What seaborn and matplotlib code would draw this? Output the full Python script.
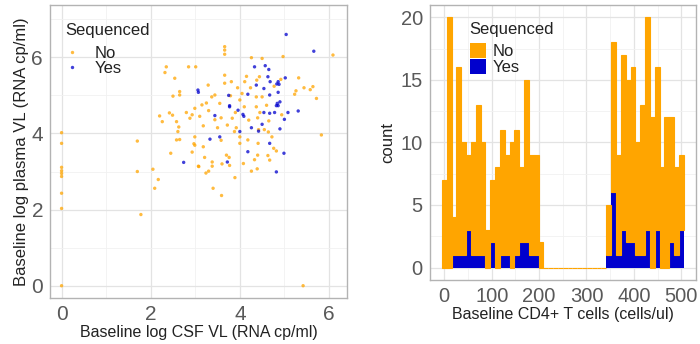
import numpy as np
import pandas as pd
import matplotlib
matplotlib.use("Agg")
import matplotlib.pyplot as plt
from matplotlib.ticker import MultipleLocator
import seaborn as sns

# ---- scatter data (log10 viral loads) ----
no_csf = [0, 0, 0, 0, 0, 0, 0, 0, 0,
          1.70, 1.70, 1.78, 2.05, 2.17, 2.09, 2.45, 2.58, 2.61, 2.58, 2.49, 5.42, 5.83, 6.09,
          3.66, 3.66, 3.66, 3.01, 4.26, 3.66, 3.66, 3.81, 3.29, 2.65, 3.44, 3.79, 4.00, 4.11,
          4.15, 4.24, 4.37, 3.37, 3.55, 4.38, 3.25, 4.37,
          4.97, 4.50, 4.44, 5.32, 4.92, 4.77, 5.44, 5.64, 5.23, 5.26, 5.72, 4.50, 4.60,
          2.99, 3.58, 2.88, 3.44, 3.83, 3.18, 3.72, 3.92, 3.88, 3.58, 2.99, 4.18, 4.00, 4.41,
          2.99, 3.18, 3.70, 3.76, 3.21, 3.38, 3.60, 3.07, 3.38, 3.30, 4.26, 4.33, 3.89, 3.40,
          3.59, 4.42, 4.00,
          4.94, 4.65, 4.40, 4.64, 4.72, 4.76, 4.63, 4.40, 4.39,
          2.35, 2.32, 2.54, 2.85, 2.50, 2.65, 2.42, 2.20, 2.26, 2.63, 2.93, 2.80, 2.65, 2.93,
          2.97, 3.08, 3.24, 3.77, 4.08, 4.67, 4.82, 5.58, 3.15, 3.30, 3.90, 4.10, 4.20, 3.50,
          3.10, 4.45, 4.55, 3.95, 4.05]
no_plasma = [4.02, 3.74, 3.11, 3.02, 2.95, 2.87, 2.43, 2.03, 0.0,
             3.80, 3.00, 1.87, 3.06, 2.79, 2.56, 3.48, 3.83, 4.05, 4.31, 4.48, 0.0, 3.96, 6.06,
             6.28, 6.19, 6.08, 5.75, 5.99, 5.53, 5.32, 5.36, 5.27, 5.01, 5.01, 4.99, 4.88, 5.36,
             5.50, 5.20, 4.96, 4.96, 4.79, 5.40, 4.80, 4.70,
             6.02, 5.97, 5.49, 5.46, 5.42, 5.24, 5.20, 5.23, 5.03, 5.12, 4.92, 4.96, 4.74,
             4.66, 4.41, 4.40, 4.36, 4.40, 4.20, 4.22, 4.15, 4.05, 3.82, 3.91, 3.83, 3.74, 3.74,
             3.69, 3.65, 3.43, 3.37, 3.37, 3.25, 3.20, 3.14, 3.14, 3.01, 3.01, 3.31, 2.84, 2.56,
             2.37, 4.10, 3.91,
             4.49, 4.33, 4.41, 4.04, 3.91, 3.61, 3.42, 3.43, 3.07,
             5.75, 5.60, 5.45, 5.75, 4.98, 5.10, 4.54, 4.46, 4.31, 4.17, 4.49, 4.55, 3.84, 3.51,
             3.73, 3.13, 2.96, 3.16, 3.21, 3.30, 3.54, 5.15, 4.75, 4.60, 4.55, 4.70, 4.35, 4.15,
             4.45, 4.55, 4.10, 5.20, 5.05]

yes_csf = [3.06, 3.07, 3.77, 4.18, 4.33, 5.04, 5.66, 4.57, 4.65, 4.63, 5.02, 4.86, 4.83, 4.88,
           4.68, 4.54, 4.37, 4.86, 4.67, 4.84, 4.86, 4.90, 3.77, 3.96, 4.07, 4.09, 3.44, 4.26,
           4.00, 3.55, 3.33, 4.18, 2.74, 3.72, 4.82, 4.54, 4.67, 4.78, 5.08, 5.31, 5.00, 4.50,
           4.42, 4.90, 4.67, 4.99, 4.82, 3.75]
yes_plasma = [5.14, 5.08, 4.73, 5.03, 5.75, 6.60, 6.16, 5.78, 5.68, 5.49, 5.46, 5.36, 5.30, 5.29,
              5.36, 5.18, 5.27, 5.08, 5.01, 4.79, 4.73, 4.83, 4.70, 4.61, 4.50, 4.45, 4.47, 4.15,
              4.05, 3.91, 3.85, 3.52, 3.24, 3.25, 4.73, 4.55, 4.53, 4.55, 4.55, 4.59, 4.37, 4.24,
              4.06, 4.12, 3.74, 3.48, 2.99, 5.00]

# ---- histogram data: counts per CD4 bin (stacked: total height and "Yes" part) ----
cd4_edges = list(np.linspace(-5.1, 505.1, 51))
total_counts = [7, 20, 4, 16, 10, 9, 10, 13, 10, 3, 7, 8, 11, 9, 10, 11, 8, 15, 9, 9, 2,
                0, 0, 0, 0, 0, 0, 0, 0, 0, 0, 0, 0, 0,
                5, 18, 9, 17, 15, 16, 10, 13, 20, 12, 16, 8, 12, 12, 8, 9]
yes_counts = [0, 0, 1, 1, 1, 3, 1, 1, 1, 0, 2, 0, 1, 1, 0, 1, 2, 2, 1, 1, 0,
              0, 0, 0, 0, 0, 0, 0, 0, 0, 0, 0, 0, 0,
              1, 6, 1, 3, 2, 2, 1, 1, 3, 0, 3, 0, 0, 2, 1, 3]

ORANGE = "#FFA500"
BLUE = "#0000CD"
palette = {"No": ORANGE, "Yes": BLUE}

sns.set_theme(style="white")
plt.rcParams["font.family"] = ["Liberation Sans", "DejaVu Sans"]

scatter_df = pd.DataFrame({
    "csf": no_csf + yes_csf,
    "plasma": no_plasma + yes_plasma,
    "Sequenced": ["No"] * len(no_csf) + ["Yes"] * len(yes_csf),
})

centers = [(a + b) / 2 for a, b in zip(cd4_edges[:-1], cd4_edges[1:])]
no_counts = [t - y for t, y in zip(total_counts, yes_counts)]
hist_df = pd.DataFrame({
    "cd4": centers + centers,
    "n": no_counts + yes_counts,
    "Sequenced": ["No"] * len(centers) + ["Yes"] * len(centers),
})

fig = plt.figure(figsize=(7, 3.44), dpi=100)
ax1 = fig.add_axes([0.0714, 0.134, 0.424, 0.851])
ax2 = fig.add_axes([0.614, 0.186, 0.38, 0.80])


def style_axes(ax, tick_size):
    ax.set_facecolor("white")
    for sp in ax.spines.values():
        sp.set_color("#B3B3B3")
        sp.set_linewidth(1.0)
    ax.grid(True, which="major", color="#E3E3E3", linewidth=0.9)
    ax.grid(True, which="minor", color="#F1F1F1", linewidth=0.6)
    ax.set_axisbelow(True)
    ax.tick_params(which="major", length=3, color="#B3B3B3", labelsize=tick_size,
                   labelcolor="#595959", pad=2)
    ax.tick_params(which="minor", length=0)


def tidy_legend(ax, gap):
    leg = ax.get_legend()
    leg._legend_box.align = "left"
    leg._legend_box.sep = gap
    leg.get_title().set_color("#222222")
    for t in leg.get_texts():
        t.set_color("#222222")


# ---- left: scatter ----
sns.scatterplot(data=scatter_df, x="csf", y="plasma", hue="Sequenced",
                hue_order=["No", "Yes"], palette=palette, s=6, linewidth=0,
                alpha=0.75, ax=ax1)
ax1.set_xlim(-0.26, 6.4)
ax1.set_ylim(-0.32, 7.37)
ax1.xaxis.set_major_locator(MultipleLocator(2))
ax1.xaxis.set_minor_locator(MultipleLocator(1))
ax1.yaxis.set_major_locator(MultipleLocator(2))
ax1.yaxis.set_minor_locator(MultipleLocator(1))
style_axes(ax1, 15)
ax1.set_xlabel("Baseline log CSF VL (RNA cp/ml)", fontsize=11.5, labelpad=1,
               color="#222222")
ax1.set_ylabel("Baseline log plasma VL (RNA cp/ml)", fontsize=12, labelpad=2,
               color="#222222")
sns.move_legend(ax1, "upper left", bbox_to_anchor=(0.005, 0.985), frameon=False,
                title="Sequenced", fontsize=12, title_fontsize=12,
                handlelength=0.9, handletextpad=0.9, labelspacing=0.0, borderpad=0.3)
tidy_legend(ax1, 6)

# ---- right: stacked histogram ----
sns.histplot(data=hist_df, x="cd4", weights="n", hue="Sequenced",
             hue_order=["No", "Yes"], palette=palette, bins=cd4_edges,
             multiple="stack", alpha=1, linewidth=0, ax=ax2)
for bar in ax2.patches:
    fc = bar.get_facecolor()
    if fc[0] > 0.9:
        bar.set_edgecolor(ORANGE)
        bar.set_linewidth(0.8)
ax2.set_xlim(-30.6, 530.6)
ax2.set_ylim(-1, 21)
ax2.xaxis.set_major_locator(MultipleLocator(100))
ax2.xaxis.set_minor_locator(MultipleLocator(50))
ax2.yaxis.set_major_locator(MultipleLocator(5))
ax2.yaxis.set_minor_locator(MultipleLocator(2.5))
style_axes(ax2, 14.5)
ax2.set_xlabel("Baseline CD4+ T cells (cells/ul)", fontsize=11.5, labelpad=1,
               color="#222222")
ax2.set_ylabel("count", fontsize=12, labelpad=4, color="#222222")
sns.move_legend(ax2, "upper left", bbox_to_anchor=(0.1, 0.985), frameon=False,
                title="Sequenced", fontsize=12, title_fontsize=12,
                handletextpad=0.4, labelspacing=0.0, borderpad=0.3,
                handlelength=0.95, handleheight=1.0)
tidy_legend(ax2, 4)

fig.savefig("out.png", dpi=100)
plt.close(fig)
